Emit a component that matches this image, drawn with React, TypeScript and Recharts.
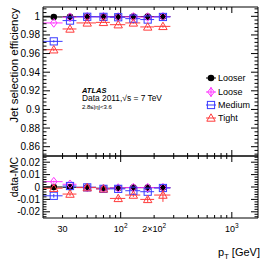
import React from 'react';
import { ScatterChart, Scatter, XAxis, YAxis, ErrorBar } from 'recharts';

const FONT = '"Liberation Sans", Arial, Helvetica, sans-serif';

// pT bins
const ptCenter = [25, 35, 50, 70, 95, 130, 175, 240];
const ptLow = [20, 30, 40, 60, 80, 110, 150, 200];
const ptHigh = [30, 40, 60, 80, 110, 150, 200, 280];

// efficiencies (top panel)
const effLooser = [0.9993, 0.9995, 0.9997, 0.9997, 0.9996, 0.9997, 0.9997, 0.9998];
const effLoose = [0.9929, 0.999, 0.9995, 0.9996, 0.9993, 0.9994, 0.9992, 0.9996];
const effMedium = [0.9731, 0.9954, 0.9995, 0.9994, 0.999, 0.9975, 0.9965, 0.9993];
const effTight = [0.9641, 0.9864, 0.9929, 0.9935, 0.991, 0.9929, 0.9886, 0.9892];
const effErrLooser = [0.0003, 0.0002, 0.0001, 0.0001, 0.0001, 0.0001, 0.0001, 0.0002];
const effErrLoose = [0.0006, 0.0004, 0.0002, 0.0002, 0.0002, 0.0002, 0.0003, 0.0004];
const effErrMedium = [0.0012, 0.0008, 0.0003, 0.0003, 0.0004, 0.0005, 0.0006, 0.0008];
const effErrTight = [0.0015, 0.0012, 0.0006, 0.0006, 0.0008, 0.0008, 0.001, 0.0015];

// data - MC (bottom panel)
const dLooser = [0.0, -0.0002, -0.0003, -0.001, -0.0008, -0.0005, -0.0005, -0.0005];
const dLoose = [0.0043, 0.0022, -0.0003, -0.0012, -0.0008, -0.0005, -0.0005, -0.0005];
const dMedium = [-0.0071, 0.0008, -0.0003, -0.0015, -0.0015, -0.003, -0.0038, -0.0008];
const dTight = [-0.001, -0.0057, -0.0005, -0.0015, -0.0092, -0.0065, -0.01, -0.0065];
const dErrLooser = [0.0004, 0.0003, 0.0002, 0.0002, 0.0002, 0.0002, 0.0003, 0.0004];
const dErrLoose = [0.0008, 0.0006, 0.0003, 0.0003, 0.0003, 0.0004, 0.0005, 0.0008];
const dErrMedium = [0.0015, 0.001, 0.0005, 0.0005, 0.0006, 0.0008, 0.001, 0.0015];
const dErrTight = [0.002, 0.0015, 0.0008, 0.0008, 0.0015, 0.0015, 0.002, 0.0055];

const seriesNames = ['Looser', 'Loose', 'Medium', 'Tight'];
const seriesColors = ['#000000', '#ff33ff', '#3b3bff', '#ff3b3b'];

// axis ticks / labels
const xTicks = [30, 40, 50, 60, 70, 80, 90, 100, 200, 300, 400, 500, 600, 700, 800, 900, 1000];
const xMajor = [100, 1000];
const xLabelValues = [30, 100, 200, 1000];
const xLabelBase = ['30', '10', '2×10', '10'];
const xLabelExp = ['', '2', '2', '3'];

const effMajor = [0.86, 0.88, 0.9, 0.92, 0.94, 0.96, 0.98, 1];
const effLabels = ['0.86', '0.88', '0.9', '0.92', '0.94', '0.96', '0.98', '1'];
const diffMajor = [-0.02, -0.01, 0, 0.01, 0.02];
const diffLabels = ['-0.02', '-0.01', '0', '0.01', '0.02'];

const X_DOMAIN: [number, number] = [20, 1720];
const EFF_DOMAIN: [number, number] = [0.85, 1.01];
const DIFF_DOMAIN: [number, number] = [-0.025, 0.025];

const minorList = (start: number, step: number, count: number) => {
  const out: number[] = [];
  for (let i = 0; i < count; i++) out.push(Math.round((start + i * step) * 10000) / 10000);
  return out;
};
const effTicks = minorList(0.852, 0.004, 40);
const diffTicks = minorList(-0.024, 0.002, 25);

const buildData = (vals: number[], errs: number[]) =>
  ptCenter.map((c, i) => ({
    x: c,
    y: vals[i],
    ex: [c - ptLow[i], ptHigh[i] - c],
    ey: errs[i],
  }));

const effSeries = [
  buildData(effLooser, effErrLooser),
  buildData(effLoose, effErrLoose),
  buildData(effMedium, effErrMedium),
  buildData(effTight, effErrTight),
];
const diffSeries = [
  buildData(dLooser, dErrLooser),
  buildData(dLoose, dErrLoose),
  buildData(dMedium, dErrMedium),
  buildData(dTight, dErrTight),
];

const Marker = ({ kind, cx, cy, color }: { kind: number; cx: number; cy: number; color: string }) => {
  if (cx == null || cy == null || isNaN(cx) || isNaN(cy)) return null;
  if (kind === 0) return <circle cx={cx} cy={cy} r={3.3} fill={color} />;
  if (kind === 1)
    return (
      <polygon
        points={`${cx},${cy - 4.3} ${cx + 3.3},${cy} ${cx},${cy + 4.3} ${cx - 3.3},${cy}`}
        fill="none"
        stroke={color}
        strokeWidth={1}
      />
    );
  if (kind === 2)
    return <rect x={cx - 3.6} y={cy - 3.6} width={7.2} height={7.2} fill="none" stroke={color} strokeWidth={1} />;
  return (
    <polygon
      points={`${cx},${cy - 4.2} ${cx + 4.2},${cy + 3.2} ${cx - 4.2},${cy + 3.2}`}
      fill="none"
      stroke={color}
      strokeWidth={1}
    />
  );
};

const isIn = (arr: number[], v: number) => arr.findIndex((m) => Math.abs(m - v) < 1e-6);

const makeYTick = (majors: number[], labels: string[], side: 'left' | 'right') => (props: any) => {
  const { x, y, payload } = props;
  const idx = isIn(majors, Number(payload.value));
  const len = idx >= 0 ? 7 : 3.5;
  const dir = side === 'left' ? 1 : -1;
  return (
    <g>
      <line x1={x} x2={x + dir * len} y1={y} y2={y} stroke="#000" strokeWidth={1} />
      {side === 'left' && idx >= 0 ? (
        <text x={x - 3} y={y} dy="0.35em" textAnchor="end" fontSize={10} fontFamily={FONT} fill="#000">
          {labels[idx]}
        </text>
      ) : null}
    </g>
  );
};

const makeXTick = (side: 'bottom' | 'top', showLabels: boolean) => (props: any) => {
  const { x, y, payload } = props;
  const v = Number(payload.value);
  const major = isIn(xMajor, v) >= 0;
  const len = major ? 6 : 3;
  const dir = side === 'bottom' ? -1 : 1;
  const li = isIn(xLabelValues, v);
  return (
    <g>
      <line x1={x} x2={x} y1={y} y2={y + dir * len} stroke="#000" strokeWidth={1} />
      {showLabels && li >= 0 ? (
        <text x={x} y={y + 14} textAnchor="middle" fontSize={9} fontFamily={FONT} fill="#000">
          {xLabelBase[li]}
          {xLabelExp[li] ? (
            <tspan dy={-4} fontSize={6.5}>
              {xLabelExp[li]}
            </tspan>
          ) : null}
        </text>
      ) : null}
    </g>
  );
};

const Panel = ({
  series,
  domain,
  ticks,
  majors,
  labels,
  top,
  bottom,
  showXLabels,
}: {
  series: any[];
  domain: [number, number];
  ticks: number[];
  majors: number[];
  labels: string[];
  top: number;
  bottom: number;
  showXLabels: boolean;
}) => (
  <ScatterChart width={274} height={261} margin={{ top: top - 1, bottom: 261 - bottom - 1, left: 42, right: 15 }}>
    <XAxis
      xAxisId="b"
      dataKey="x"
      type="number"
      scale="log"
      domain={X_DOMAIN}
      allowDataOverflow
      ticks={xTicks}
      interval={0}
      height={1}
      tickSize={0}
      tickMargin={0}
      tickLine={false}
      axisLine={{ stroke: '#000', strokeWidth: 1 }}
      tick={makeXTick('bottom', showXLabels)}
    />
    <XAxis
      xAxisId="t"
      orientation="top"
      dataKey="x"
      type="number"
      scale="log"
      domain={X_DOMAIN}
      allowDataOverflow
      ticks={xTicks}
      interval={0}
      height={1}
      tickSize={0}
      tickMargin={0}
      tickLine={false}
      axisLine={{ stroke: '#000', strokeWidth: 1 }}
      tick={makeXTick('top', false)}
    />
    <YAxis
      yAxisId="l"
      dataKey="y"
      type="number"
      domain={domain}
      allowDataOverflow
      ticks={ticks}
      interval={0}
      width={1}
      tickSize={0}
      tickMargin={0}
      tickLine={false}
      axisLine={{ stroke: '#000', strokeWidth: 1 }}
      tick={makeYTick(majors, labels, 'left')}
    />
    <YAxis
      yAxisId="r"
      orientation="right"
      dataKey="y"
      type="number"
      domain={domain}
      allowDataOverflow
      ticks={ticks}
      interval={0}
      width={1}
      tickSize={0}
      tickMargin={0}
      tickLine={false}
      axisLine={{ stroke: '#000', strokeWidth: 1 }}
      tick={makeYTick(majors, labels, 'right')}
    />
    {series.map((data, k) => (
      <Scatter
        key={seriesNames[k]}
        name={seriesNames[k]}
        data={data}
        xAxisId="b"
        yAxisId="l"
        isAnimationActive={false}
        fill={seriesColors[k]}
        shape={(p: any) => <Marker kind={k} cx={p.cx} cy={p.cy} color={seriesColors[k]} />}
      >
        <ErrorBar dataKey="ex" direction="x" width={0} stroke={seriesColors[k]} strokeWidth={1} />
        <ErrorBar dataKey="ey" direction="y" width={0} stroke={seriesColors[k]} strokeWidth={1} />
      </Scatter>
    ))}
  </ScatterChart>
);

const abs: React.CSSProperties = { position: 'absolute', left: 0, top: 0, width: 274, height: 261 };

export default function App() {
  const legendRows = [78, 92, 105, 118];
  return (
    <div style={{ ...abs, background: '#fff' }}>
      <div style={abs}>
        <Panel
          series={effSeries}
          domain={EFF_DOMAIN}
          ticks={effTicks}
          majors={effMajor}
          labels={effLabels}
          top={7}
          bottom={156}
          showXLabels={false}
        />
      </div>
      <div style={abs}>
        <Panel
          series={diffSeries}
          domain={DIFF_DOMAIN}
          ticks={diffTicks}
          majors={diffMajor}
          labels={diffLabels}
          top={156}
          bottom={218}
          showXLabels={true}
        />
      </div>
      <svg style={{ ...abs, pointerEvents: 'none' }} width={274} height={261}>
        <text transform="translate(18,8) rotate(-90)" textAnchor="end" fontSize={11.5} fontFamily={FONT} fill="#000">
          Jet selection efficiency
        </text>
        <text transform="translate(18,157) rotate(-90)" textAnchor="end" fontSize={10.5} fontFamily={FONT} fill="#000">
          data-MC
        </text>
        <text x={260} y={256} textAnchor="end" fontSize={11} fontFamily={FONT} fill="#000">
          p
          <tspan dy={3} fontSize={7.5}>
            T
          </tspan>
          <tspan dy={-3}> [GeV]</tspan>
        </text>
        <text x={82} y={92.5} fontSize={7.5} fontWeight="bold" fontStyle="italic" fontFamily={FONT} fill="#000">
          ATLAS
        </text>
        <text x={82} y={101.3} fontSize={8.4} fontFamily={FONT} fill="#000">
          Data 2011,√s = 7 TeV
        </text>
        <text x={82} y={109.3} fontSize={6} fontFamily={FONT} fill="#000">
          2.8≤|η|&lt;3.6
        </text>
        {seriesNames.map((n, k) => {
          const cy = legendRows[k];
          const c = seriesColors[k];
          return (
            <g key={n}>
              <line x1={206} x2={216} y1={cy} y2={cy} stroke={c} strokeWidth={1} />
              {k === 1 ? <line x1={211} x2={211} y1={cy - 5} y2={cy + 5} stroke={c} strokeWidth={1} /> : null}
              <Marker kind={k} cx={211} cy={cy} color={c} />
              <text x={218} y={cy} dy="0.35em" fontSize={9} fontFamily={FONT} fill="#000">
                {n}
              </text>
            </g>
          );
        })}
      </svg>
    </div>
  );
}
